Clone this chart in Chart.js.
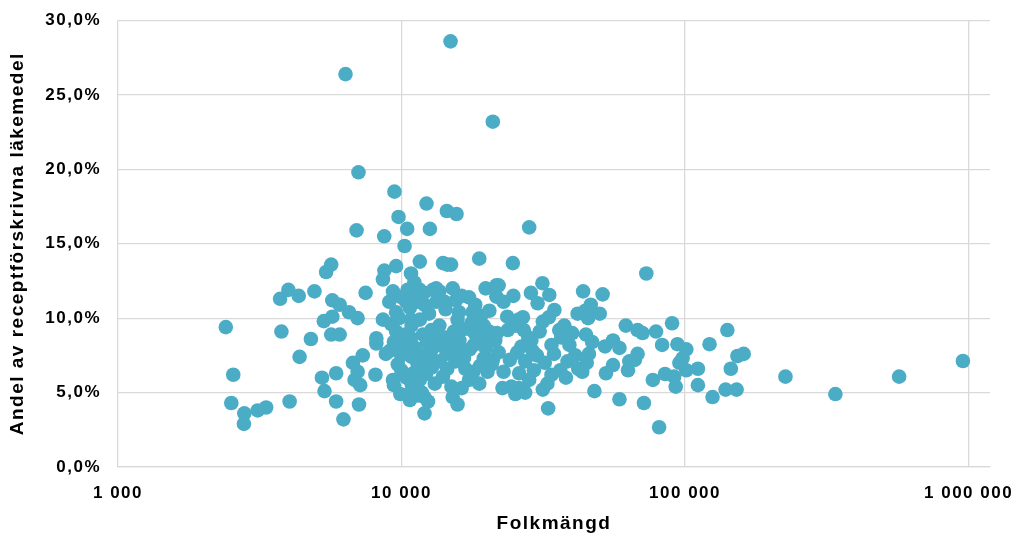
<!DOCTYPE html>
<html>
<head>
<meta charset="utf-8">
<script src="https://cdn.jsdelivr.net/npm/chart.js@4.4.1/dist/chart.umd.min.js"></script>
<style>
  html, body { margin: 0; padding: 0; background: #fff; }
  #wrap { width: 1017px; height: 535px; position: relative; }
</style>
</head>
<body>
<div id="wrap"><canvas id="chart"></canvas></div>
<script>
// Folkmängd (x) och andel receptförskrivna läkemedel i procent (y), en punkt per kommun
const folkmangd = [
  2400, 2550, 2510, 2790, 2780, 3110, 3330, 4030, 3730, 3990,
  4340, 4930, 3770, 4370, 4790, 5240, 5350, 5420, 5650, 5700,
  5320, 5700, 5650, 6050, 5880, 5880, 6240, 6050, 6530, 7000,
  6345, 7050, 6940, 7470, 6740, 6830, 7300, 7080, 8150, 8150,
  8090, 7000, 7150, 8700, 9570, 8600, 9330, 9050, 9570, 8600,
  9440, 9760, 8690, 9330, 9980, 9980, 9570, 9200, 9400, 9100,
  9700, 9400, 9900, 8800, 9600, 9800, 10250, 10470, 10800, 11600,
  10000, 10500, 11100, 10390, 10800, 11600, 12050, 10700, 11400, 12000,
  10800, 11600, 10850, 10300, 10800, 10390, 10150, 10850, 11400, 11700,
  12000, 10670, 10700, 11400, 12050, 12050, 12400, 11800, 10850, 11600,
  12200, 12750, 12500, 12250, 12590, 12900, 11000, 10400, 11200, 12300,
  11900, 12700, 13250, 13250, 13600, 14200, 14000, 14950, 14500, 15150,
  15560, 15950, 14300, 13600, 15760, 16200, 15300, 16000, 14300, 13600,
  12800, 13600, 12800, 14500, 14000, 15500, 16600, 13100, 15000, 15150,
  15760, 16300, 14400, 15800, 14890, 14450, 15630, 16300, 17300, 13000,
  14700, 16800, 17800, 19050, 18600, 18200, 17700, 17100, 18600, 18100,
  19200, 19500, 20400, 21700, 21400, 19800, 17400, 17300, 17900, 18900,
  18800, 20100, 19500, 21000, 22000, 22700, 18800, 19800, 21600, 21600,
  22900, 22000, 20400, 20990, 23700, 23600, 22900, 24100, 24400, 24700,
  24800, 18000, 20800, 25300, 26800, 25900, 27000, 28600, 30200, 31400,
  33200, 34600, 31500, 33100, 30700, 28700, 28000, 26500, 25600, 27300,
  29300, 28200, 25900, 27300, 25200, 33800, 33800, 32700, 31500, 32900,
  28200, 36000, 36600, 36300, 30000, 26000, 29000, 32000, 34500, 37500,
  41800, 45400, 43700, 39100, 41000, 38500, 44700, 45800, 45000, 43400,
  47900, 44500, 46500, 45500, 40000, 42000, 38000, 47000, 51200, 73000,
  61800, 68000, 70800, 79000, 90000, 83000, 94000, 101000, 98000, 95500,
  101000, 111000, 111000, 77000, 85000, 91500, 92700, 71600, 81000, 58700,
  55700, 52200, 58700, 55700, 52600, 62900, 63600, 68000, 66500, 50000,
  141000, 122000, 161000, 153000, 145000, 139000, 152000, 125000, 226000, 339000,
  569000, 955000
];
const andel = [
  9.4, 6.2, 4.3, 3.6, 2.9, 3.8, 4.0, 4.4, 11.3, 11.9,
  11.5, 11.8, 9.1, 7.4, 8.6, 6.0, 5.1, 13.1, 13.6, 11.2,
  9.8, 10.1, 8.9, 8.9, 6.3, 4.4, 3.2, 10.9, 10.4, 10.0,
  26.4, 19.8, 15.9, 11.7, 7.0, 5.85, 7.5, 4.2, 8.3, 8.65,
  6.2, 6.4, 5.5, 13.2, 13.5, 12.6, 11.8, 11.1, 10.4, 9.9,
  18.5, 16.8, 15.5, 5.85, 6.5, 7.5, 9.1, 9.6, 8.4, 7.8,
  6.9, 5.5, 4.9, 7.6, 8.1, 10.0, 14.85, 16.0, 13.0, 13.8,
  11.4, 11.9, 12.4, 11.1, 11.8, 11.9, 10.9, 10.7, 11.1, 11.7,
  9.9, 9.9, 9.5, 8.9, 8.65, 7.9, 8.2, 7.4, 6.9, 7.0,
  7.5, 4.95, 4.5, 4.8, 4.7, 3.6, 4.4, 5.0, 5.6, 5.85,
  6.25, 9.2, 10.3, 17.7, 16.0, 11.9, 6.3, 6.0, 8.0, 8.4,
  8.9, 7.3, 12.0, 11.1, 11.8, 11.1, 13.7, 13.6, 13.6, 12.0,
  11.2, 10.4, 10.6, 9.5, 9.9, 9.2, 9.1, 8.5, 8.7, 8.2,
  7.9, 7.1, 6.7, 6.6, 6.07, 7.1, 7.3, 5.6, 5.4, 4.7,
  4.2, 5.3, 7.6, 7.8, 28.6, 17.2, 17.0, 11.5, 11.4, 8.8,
  8.3, 6.6, 10.4, 10.15, 10.0, 10.9, 9.7, 9.3, 9.1, 9.0,
  8.5, 9.5, 9.1, 9.0, 8.5, 8.0, 7.9, 5.85, 6.4, 6.8,
  5.6, 6.4, 7.3, 7.2, 7.7, 5.3, 14.0, 12.0, 12.2, 11.45,
  11.1, 12.2, 10.5, 23.2, 9.2, 10.1, 6.4, 7.2, 5.4, 13.7,
  11.5, 8.2, 6.9, 9.5, 10.06, 9.9, 9.2, 11.7, 11.0, 12.35,
  11.56, 10.55, 9.77, 10.06, 9.1, 8.5, 8.7, 8.1, 7.7, 7.1,
  6.5, 5.85, 5.3, 5.0, 4.9, 8.2, 6.2, 5.6, 5.2, 3.94,
  16.1, 9.2, 8.7, 6.5, 7.5, 6.3, 7.8, 7.0, 7.6, 9.5,
  10.3, 10.2, 11.8, 8.2, 7.5, 7.1, 8.9, 7.6, 7.0, 6.4,
  5.1, 10.5, 10.9, 10.0, 9.0, 6.6, 6.0, 8.4, 11.6, 13.0,
  9.5, 9.2, 9.0, 9.1, 9.66, 8.2, 8.25, 7.9, 7.3, 7.0,
  6.5, 6.6, 5.5, 5.85, 6.25, 6.07, 5.4, 4.3, 2.67, 4.55,
  8.5, 8.1, 8.0, 6.85, 6.3, 6.5, 7.1, 7.6, 7.2, 10.3,
  9.2, 8.25, 7.6, 7.46, 6.6, 5.2, 5.2, 4.7, 6.07, 4.9,
  6.07, 7.12
];

const xTickValues = [1000, 10000, 100000, 1000000];
const xTickLabels = ['1 000', '10 000', '100 000', '1 000 000'];
const yTickValues = [0, 5, 10, 15, 20, 25, 30];
const yTickLabels = ['0,0%', '5,0%', '10,0%', '15,0%', '20,0%', '25,0%', '30,0%'];

const MARKER = '#4BACC6';
const GRID = '#d9d9d9';
const FONT = "'Liberation Sans', Arial, sans-serif";

const points = folkmangd.map((x, i) => ({ x, y: andel[i] }));

// Excel-texten är lite utdragen, lägg till teckenavstånd
const letterSpacing = {
  id: 'letterSpacing',
  beforeDraw(chart) { chart.ctx.letterSpacing = '1.5px'; },
};

new Chart(document.getElementById('chart'), {
  type: 'scatter',
  data: {
    datasets: [{
      data: points,
      backgroundColor: MARKER,
      borderWidth: 0,
      pointRadius: 7.3,
      pointHoverRadius: 7.3,
    }],
  },
  options: {
    responsive: true,
    maintainAspectRatio: false,
    animation: false,
    layout: { padding: { top: 20.5, right: 27, bottom: 0, left: 0 } },
    plugins: {
      legend: { display: false },
      tooltip: { enabled: false },
    },
    scales: {
      x: {
        type: 'logarithmic',
        min: 1000,
        max: 1190000,
        afterBuildTicks: (s) => { s.ticks = xTickValues.map(v => ({ value: v })); },
        afterFit: (s) => { s.height = 68; s.paddingLeft = 0; s.paddingRight = 0; },
        ticks: {
          callback: (v, i) => xTickLabels[i],
          color: '#000',
          font: { family: FONT, size: 17, weight: 'bold' },
          padding: 16,
          maxRotation: 0,
          autoSkip: false,
        },
        grid: { color: GRID, lineWidth: 1.3, drawTicks: false },
        border: { color: GRID, width: 1.3 },
        title: {
          display: true,
          text: 'Folkmängd',
          color: '#000',
          font: { family: FONT, size: 19, weight: 'bold' },
          padding: { top: 0, bottom: 0 },
        },
      },
      y: {
        min: 0,
        max: 30,
        afterBuildTicks: (s) => { s.ticks = yTickValues.map(v => ({ value: v })); },
        afterFit: (s) => { s.width = 118; s.paddingTop = 0; s.paddingBottom = 0; },
        ticks: {
          callback: (v, i) => yTickLabels[i],
          color: '#000',
          font: { family: FONT, size: 17, weight: 'bold' },
          padding: 17,
        },
        grid: { color: GRID, lineWidth: 1.3, drawTicks: false },
        border: { display: false },
        title: {
          display: true,
          text: 'Andel av receptförskrivna läkemedel',
          color: '#000',
          font: { family: FONT, size: 19, weight: 'bold' },
          padding: { top: 6, bottom: 0 },
        },
      },
    },
  },
  plugins: [letterSpacing],
});
</script>
</body>
</html>
